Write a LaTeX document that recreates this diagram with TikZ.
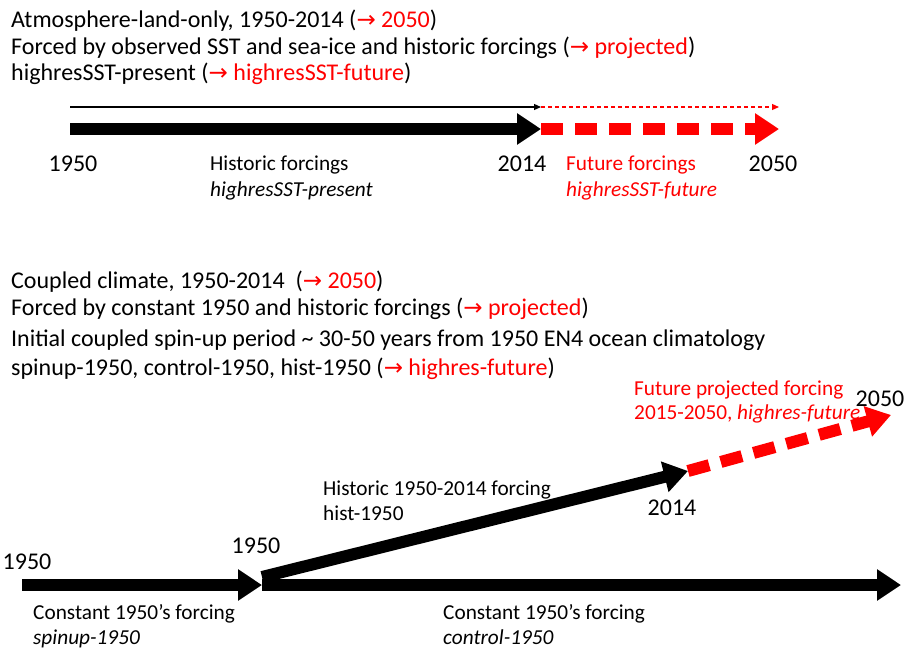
\documentclass[tikz,border=0pt]{standalone}
\usepackage{fontspec}
\setmainfont{Carlito}
\newfontfamily\arrfont{DejaVu Sans}
\usetikzlibrary{arrows.meta}
\newcommand{\rarr}{{\arrfont\fontsize{23}{26}\selectfont →}}
\begin{document}
\begin{tikzpicture}[x=1pt,y=-1pt,
 hdr/.style={anchor=base west, inner sep=0pt, font=\fontsize{24}{28}\selectfont},
 lbl/.style={anchor=base west, inner sep=0pt, font=\fontsize{21.3}{25}\selectfont},
 yr/.style={anchor=base, inner sep=0pt, font=\fontsize{24}{28}\selectfont},
 bigarrow/.style={line width=12pt, -{Triangle[length=24pt,width=30pt]}},
 thinarrow/.style={line width=1.2pt, -{Triangle[length=7pt,width=6pt]}},
 reddash/.style={red, dash pattern=on 22pt off 12pt},
 ]
\useasboundingbox (0,0) rectangle (905,651);
% --- top section text
\node[hdr] (h1) at (11,27) {Atmosphere-land-only, 1950-2014 (\textcolor{red}{\rarr\ 2050})};
\node[hdr] (h2) at (11,54) {Forced by observed SST and sea-ice and historic forcings (\textcolor{red}{\rarr\ projected})};
\node[hdr] (h3) at (11,80) {highresSST-present (\textcolor{red}{\rarr\ highresSST-future})};
% --- top arrows
\coordinate (t1) at (70,107);
\coordinate (t2) at (541,107);
\coordinate (t3) at (779,107);
\coordinate (a1) at (70,129);
\coordinate (a2) at (541,129);
\coordinate (a3) at (779,129);
\draw[thinarrow] (t1) -- (t2);
\draw[thinarrow, red, dash pattern=on 4pt off 3pt] (t2) -- (t3);
\draw[bigarrow] (a1) -- (a2);
\draw[bigarrow, reddash] (a2) -- (a3);
% --- top labels
\node[yr] (y1950a) at (73,171) {1950};
\node[yr] (y2014a) at (522,171) {2014};
\node[yr] (y2050a) at (773,171) {2050};
\node[lbl] (hf1) at (210,170) {Historic forcings};
\node[lbl] (hf2) at (210,196) {\itshape highresSST-present};
\node[lbl, red] (ff1) at (566,170) {Future forcings};
\node[lbl, red] (ff2) at (566,196) {\itshape highresSST-future};
% --- bottom section text
\node[hdr] (g1) at (11,288) {Coupled climate, 1950-2014\ \ (\textcolor{red}{\rarr\ 2050})};
\node[hdr] (g2) at (11,315) {Forced by constant 1950 and historic forcings (\textcolor{red}{\rarr\ projected})};
\node[hdr] (g3) at (11,346) {Initial coupled spin-up period \textasciitilde\ 30-50 years from 1950 EN4 ocean climatology};
\node[hdr] (g4) at (11,375) {spinup-1950, control-1950, hist-1950 (\textcolor{red}{\rarr\ highres-future})};
% --- bottom arrows
\coordinate (b1) at (22,585);
\coordinate (b2) at (262,585);
\coordinate (b3) at (901,585);
\coordinate (d1) at (262,577);
\coordinate (d2) at (688,471);
\coordinate (d3) at (891,415);
\draw[bigarrow] (b1) -- (b2);
\draw[bigarrow] (b2) -- (b3);
\draw[bigarrow] (d1) -- (d2);
\draw[bigarrow, reddash] (d2) -- (d3);
% --- bottom labels
\node[lbl, red] (fp1) at (634,395) {Future projected\ forcing};
\node[lbl, red] (fp2) at (634,419) {2015-2050, \itshape highres-future};
\node[yr] (y2050b) at (880,406) {2050};
\node[lbl] (hi1) at (323,495) {Historic 1950-2014 forcing};
\node[lbl] (hi2) at (323,520) {hist-1950};
\node[yr] (y2014b) at (672,515) {2014};
\node[yr] (y1950b) at (27,569) {1950};
\node[yr] (y1950c) at (256,553) {1950};
\node[lbl] (c1) at (33,619) {Constant 1950's forcing};
\node[lbl] (c2) at (33,644) {\itshape spinup-1950};
\node[lbl] (c3) at (443,619) {Constant 1950's forcing};
\node[lbl] (c4) at (443,644) {\itshape control-1950};
\end{tikzpicture}
\end{document}
